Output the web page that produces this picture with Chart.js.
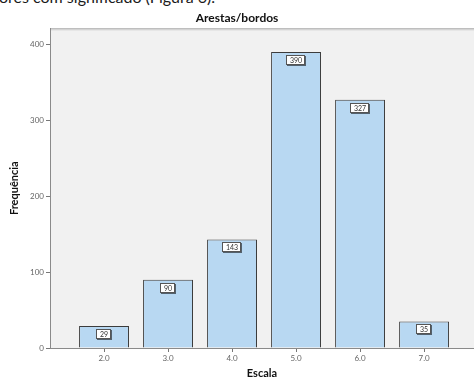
<!DOCTYPE html>
<html>
<head>
<meta charset="utf-8">
<script src="https://cdn.jsdelivr.net/npm/chart.js@4.4.1/dist/chart.umd.min.js"></script>
<style>
  html, body { margin: 0; padding: 0; background: #ffffff; overflow: hidden; }
  #wrap { position: relative; width: 474px; height: 380px; }
  #caption {
    position: absolute; left: -1px; top: -13px; margin: 0;
    font: 16px Lato, "Open Sans", sans-serif; color: #1a1a1a; white-space: nowrap;
  }
  canvas { position: absolute; left: 0; top: 0; }
</style>
</head>
<body>
<div id="wrap">
  <p id="caption">ores com significado (Figura 6).</p>
  <canvas id="c" width="474" height="380"></canvas>
</div>
<script>
// Escala values (x) and their frequencies
const categories = [2, 3, 4, 5, 6, 7];
const frequencies = [29, 90, 143, 390, 327, 35];
const yTicks = [0, 100, 200, 300, 400];
const xTicks = categories;

const FONT = 'Lato, "Open Sans", sans-serif';

// Grey plot panel with a top rule
const panel = {
  id: 'panel',
  beforeDraw(chart) {
    const { ctx, chartArea: a } = chart;
    ctx.save();
    ctx.fillStyle = '#f1f1f1';
    ctx.fillRect(a.left, a.top, a.right - a.left, a.bottom - a.top);
    ctx.strokeStyle = '#9a9a9a';
    ctx.lineWidth = 1;
    ctx.beginPath();
    ctx.moveTo(a.left, a.top + 0.5);
    ctx.lineTo(a.right, a.top + 0.5);
    ctx.stroke();
    ctx.strokeStyle = '#d6d6d6';
    ctx.beginPath();
    ctx.moveTo(a.left, a.top + 1.5);
    ctx.lineTo(a.right, a.top + 1.5);
    ctx.stroke();
    ctx.restore();
  }
};

// Boxed count labels near the top of each bar
const valueBoxes = {
  id: 'valueBoxes',
  afterDatasetsDraw(chart) {
    const { ctx } = chart;
    const meta = chart.getDatasetMeta(0);
    ctx.save();
    ctx.font = '7px ' + FONT;
    ctx.textAlign = 'center';
    ctx.textBaseline = 'middle';
    meta.data.forEach((bar, i) => {
      const txt = String(frequencies[i]);
      const w = Math.round(ctx.measureText(txt).width) + 7;
      const h = 10;
      const cx = Math.round(bar.x);
      const top = Math.round(bar.y) + 3;
      const left = cx - Math.round(w / 2);
      ctx.fillStyle = 'rgba(0,0,0,0.55)';
      ctx.fillRect(left + 1, top + 1, w, h);
      ctx.fillStyle = '#ffffff';
      ctx.fillRect(left, top, w, h);
      ctx.strokeStyle = '#555555';
      ctx.lineWidth = 1;
      ctx.strokeRect(left + 0.5, top + 0.5, w - 1, h - 1);
      ctx.fillStyle = '#333333';
      ctx.fillText(txt, cx, top + h / 2 + 0.5);
    });
    ctx.restore();
  }
};

new Chart(document.getElementById('c'), {
  type: 'bar',
  data: {
    datasets: [{
      data: categories.map((c, i) => ({ x: c, y: frequencies[i] })),
      backgroundColor: '#b8d8f2',
      borderColor: '#3c3c3c',
      borderWidth: 1,
      borderSkipped: 'bottom',
      categoryPercentage: 1,
      barPercentage: 0.78
    }]
  },
  options: {
    responsive: false,
    animation: false,
    layout: { padding: { left: 0, right: 0, top: 0, bottom: 0 } },
    plugins: {
      legend: { display: false },
      tooltip: { enabled: false },
      title: {
        display: true,
        text: 'Arestas/bordos',
        color: '#111',
        font: { family: FONT, size: 12, weight: 'bold', lineHeight: 1.2 },
        padding: { top: 11, bottom: 3 }
      }
    },
    scales: {
      x: {
        type: 'linear',
        offset: false,
        min: 1.156,
        max: 7.78,
        afterBuildTicks(scale) { scale.ticks = xTicks.map(v => ({ value: v })); },
        afterFit(scale) { scale.height = 32; },
        grid: { offset: false, drawOnChartArea: false, tickLength: 4, color: '#777' },
        border: { display: true, color: '#8a8a8a' },
        ticks: {
          color: '#666',
          font: { family: FONT, size: 8 },
          padding: 2,
          maxRotation: 0,
          callback: v => Number(v).toFixed(1)
        },
        title: {
          display: true,
          text: 'Escala',
          color: '#111',
          font: { family: FONT, size: 11, weight: 'bold' },
          padding: { top: 1, bottom: 0 }
        }
      },
      y: {
        min: 0,
        max: 421,
        afterBuildTicks(scale) { scale.ticks = yTicks.map(v => ({ value: v })); },
        afterFit(scale) { scale.width = 50; },
        grid: { drawOnChartArea: false, tickLength: 4, color: '#777' },
        border: { display: true, color: '#8a8a8a' },
        ticks: {
          color: '#666',
          font: { family: FONT, size: 8 },
          padding: 2
        },
        title: {
          display: true,
          text: 'Frequência',
          color: '#111',
          font: { family: FONT, size: 11, weight: 'bold' },
          padding: { top: 8, bottom: 10 }
        }
      }
    }
  },
  plugins: [panel, valueBoxes]
});
</script>
</body>
</html>
